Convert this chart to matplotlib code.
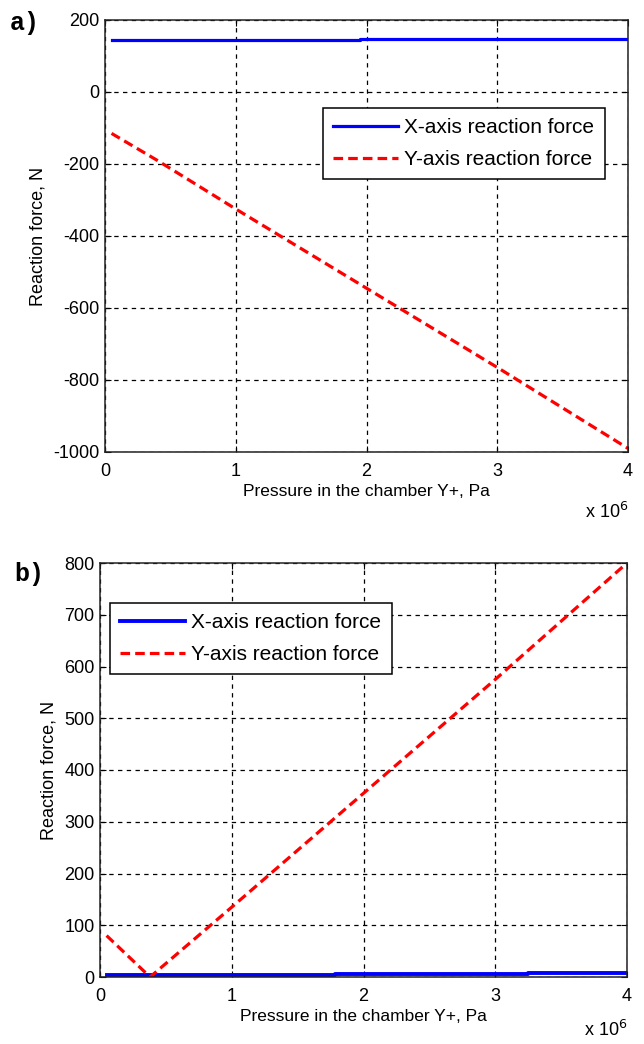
import matplotlib
matplotlib.use("Agg")
import matplotlib.pyplot as plt
import numpy as np

plt.rcParams['font.family'] = ['Liberation Sans', 'DejaVu Sans']

# Panel a data (pressure in units of 1e6 Pa)
pa_x_force_p = [0.05, 1.95, 1.95, 4.0]
pa_x_force = [145, 145, 148, 148]
pa_y_force_p = [0.05, 0.4, 1.0, 2.0, 3.0, 4.0]
pa_y_force = [-115, -190, -325, -545, -765, -990]

# Panel b data
pb_x_force_p = [0.05, 1.78, 1.78, 3.25, 3.25, 4.0]
pb_x_force = [3, 3, 5, 5, 8, 8]
pb_y_force_p = [0.05, 0.38, 1.0, 2.0, 3.0, 4.0]
pb_y_force = [80, 0, 135, 355, 575, 800]

xticks = [0, 1, 2, 3, 4]
a_yticks = [-1000, -800, -600, -400, -200, 0, 200]
b_yticks = [0, 100, 200, 300, 400, 500, 600, 700, 800]

fig = plt.figure(figsize=(6.44, 10.44), dpi=100)
W, H = 644, 1044

def make_ax(l, r, t, b):
    return fig.add_axes([l / W, 1 - b / H, (r - l) / W, (b - t) / H])

axa = make_ax(105, 628, 20, 452)
axb = make_ax(100, 627, 563, 977)

def style(ax, yticks, ylim, off):
    ax.set_xlim(0, 4)
    ax.set_ylim(*ylim)
    ax.set_xticks(xticks)
    ax.set_yticks(yticks)
    ax.set_xticklabels([str(v) for v in xticks])
    ax.set_yticklabels([str(v) for v in yticks])
    ax.tick_params(direction='in', top=True, right=True, labelsize=13, length=4, width=0.8)
    ax.tick_params(axis='x', pad=8)
    ax.tick_params(axis='y', pad=4)
    ax.grid(True, color='black', linestyle=(0, (3.5, 3.5)), linewidth=0.9)
    for s in ax.spines.values():
        s.set_linewidth(1.1)
        s.set_color('#222222')
    ax.set_xlabel('Pressure in the chamber Y+, Pa', fontsize=12.5, labelpad=3)
    ax.set_ylabel('Reaction force, N', fontsize=13, labelpad=5)
    ax.annotate(r'x 10$^6$', xy=(1, 0), xycoords='axes fraction', xytext=(0, off),
                textcoords='offset pixels', ha='right', va='center', fontsize=13)

def legend(ax, x0, y0):
    ax.legend(loc='upper left', bbox_to_anchor=(x0, y0),
              fontsize=15, frameon=True, fancybox=False, edgecolor='black', framealpha=1,
              handlelength=3.1, handletextpad=0.3, borderpad=0.5, labelspacing=0.6,
              borderaxespad=0).get_frame().set_linewidth(1.1)

axa.plot(pa_x_force_p, pa_x_force, color='#0000ff', linewidth=2.3, label='X-axis reaction force')
axa.plot(pa_y_force_p, pa_y_force, color='#ff0000', linewidth=2.3, linestyle=(0, (3, 1.6)), label='Y-axis reaction force')
style(axa, a_yticks, (-1000, 200), -60)
legend(axa, (323 - 105) / 523, 1 - (108 - 20) / 432)

axb.plot(pb_x_force_p, pb_x_force, color='#0000ff', linewidth=2.8, label='X-axis reaction force')
axb.plot(pb_y_force_p, pb_y_force, color='#ff0000', linewidth=2.3, linestyle=(0, (3, 1.6)), label='Y-axis reaction force')
style(axb, b_yticks, (0, 800), -53)
legend(axb, (110 - 100) / 527, 1 - (603 - 563) / 414)

fig.text(10 / W, 1 - 23 / H, 'a)', fontsize=18, fontweight='bold', family='Liberation Mono', va='center', ha='left')
fig.text(14 / W, 1 - 574 / H, 'b)', fontsize=18, fontweight='bold', family='Liberation Mono', va='center', ha='left')

fig.savefig('out.png', dpi=100)
